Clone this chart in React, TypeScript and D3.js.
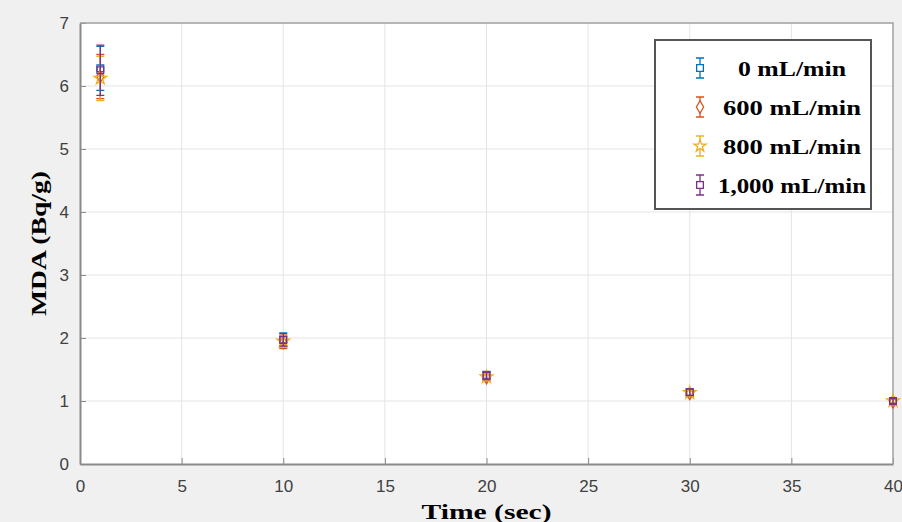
import React, { useRef, useEffect } from "react";
import * as d3 from "d3";

// Data
const times = [1, 10, 20, 30, 40];
const flowLabels = ["0 mL/min", "600 mL/min", "800 mL/min", "1,000 mL/min"];
const mda0 = [6.28, 1.98, 1.41, 1.14, 1.0];
const mda600 = [6.15, 1.93, 1.37, 1.12, 0.99];
const mda800 = [6.12, 1.95, 1.38, 1.13, 1.0];
const mda1000 = [6.25, 1.97, 1.4, 1.14, 1.0];
const err0 = [0.35, 0.1, 0.06, 0.05, 0.04];
const err600 = [0.35, 0.1, 0.06, 0.05, 0.04];
const err800 = [0.35, 0.1, 0.06, 0.05, 0.04];
const err1000 = [0.4, 0.1, 0.06, 0.05, 0.04];
const xTicks = [0, 5, 10, 15, 20, 25, 30, 35, 40];
const yTicks = [0, 1, 2, 3, 4, 5, 6, 7];

const seriesColors = ["#0072BD", "#D95319", "#EDB120", "#7E2F8E"];
const seriesSymbols = [d3.symbolSquare, d3.symbolDiamond, d3.symbolStar, d3.symbolSquare];
// approximate rendered widths of the stretched legend text
const legendTextWidths = [108, 138, 138, 148];

const App = () => {
  const svgRef = useRef<SVGSVGElement>(null);

  useEffect(() => {
    const width = 902;
    const height = 522;
    const margin = { top: 23, right: 9, bottom: 58, left: 80 };
    const svg = d3.select(svgRef.current).attr("width", width).attr("height", height);
    svg.selectAll("*").remove();

    // figure background
    svg.append("rect").attr("width", width).attr("height", height).attr("fill", "#f0f0f0");

    const x = d3.scaleLinear().domain([0, 40]).range([margin.left, width - margin.right]);
    const y = d3.scaleLinear().domain([0, 7]).range([height - margin.bottom, margin.top]);

    // plot area
    svg
      .append("rect")
      .attr("x", x(0))
      .attr("y", y(7))
      .attr("width", x(40) - x(0))
      .attr("height", y(0) - y(7))
      .attr("fill", "#ffffff");

    // grid
    const grid = svg.append("g").attr("stroke", "#e4e4e4").attr("stroke-width", 1);
    grid
      .selectAll()
      .data(xTicks.slice(1, -1))
      .join("line")
      .attr("x1", (d) => x(d))
      .attr("x2", (d) => x(d))
      .attr("y1", y(0))
      .attr("y2", y(7));
    grid
      .selectAll()
      .data(yTicks.slice(1, -1))
      .join("line")
      .attr("x1", x(0))
      .attr("x2", x(40))
      .attr("y1", (d) => y(d))
      .attr("y2", (d) => y(d));

    // axes (MATLAB style, ticks inside)
    const xAxis = svg
      .append("g")
      .attr("transform", `translate(0, ${y(0)})`)
      .call(
        d3.axisBottom(x).tickValues(xTicks).tickFormat(d3.format("d")).tickSizeInner(-6).tickSizeOuter(0).tickPadding(16)
      );
    const yAxis = svg
      .append("g")
      .attr("transform", `translate(${x(0)}, 0)`)
      .call(
        d3.axisLeft(y).tickValues(yTicks).tickFormat(d3.format("d")).tickSizeInner(-6).tickSizeOuter(0).tickPadding(11)
      );
    [xAxis, yAxis].forEach((ax) => {
      ax.select(".domain").attr("stroke", "#8a8a8a").attr("stroke-width", 2);
      ax.selectAll(".tick line").attr("stroke", "#8a8a8a");
      ax.selectAll(".tick text")
        .attr("fill", "#404040")
        .attr("font-family", "Liberation Sans, Arial, sans-serif")
        .attr("font-size", "17px");
    });

    // top and right box edges
    svg
      .append("path")
      .attr("d", `M${x(0)},${y(7)}H${x(40)}V${y(0)}`)
      .attr("fill", "none")
      .attr("stroke", "#a0a0a0")
      .attr("stroke-width", 1.5);

    // axis labels
    svg
      .append("text")
      .attr("x", (x(0) + x(40)) / 2)
      .attr("y", 519)
      .attr("text-anchor", "middle")
      .attr("font-family", "Liberation Serif, Times New Roman, serif")
      .attr("font-weight", "bold")
      .attr("font-size", "20px")
      .attr("textLength", 130)
      .attr("lengthAdjust", "spacingAndGlyphs")
      .text("Time (sec)");
    svg
      .append("text")
      .attr("transform", `translate(46, ${(y(0) + y(7)) / 2}) rotate(-90)`)
      .attr("text-anchor", "middle")
      .attr("font-family", "Liberation Serif, Times New Roman, serif")
      .attr("font-weight", "bold")
      .attr("font-size", "20px")
      .attr("textLength", 145)
      .attr("lengthAdjust", "spacingAndGlyphs")
      .text("MDA (Bq/g)");

    // series with error bars
    const values = [mda0, mda600, mda800, mda1000];
    const errors = [err0, err600, err800, err1000];
    const capW = 4;
    values.forEach((vals, s) => {
      const g = svg.append("g").attr("stroke", seriesColors[s]).attr("fill", "none").attr("stroke-width", 1.3);
      const pts = times.map((t, i) => ({ t, v: vals[i], e: errors[s][i] }));
      g.selectAll()
        .data(pts)
        .join("path")
        .attr(
          "d",
          (d) =>
            `M${x(d.t)},${y(d.v - d.e)}V${y(d.v + d.e)}` +
            `M${x(d.t) - capW},${y(d.v - d.e)}H${x(d.t) + capW}` +
            `M${x(d.t) - capW},${y(d.v + d.e)}H${x(d.t) + capW}`
        );
      g.selectAll()
        .data(pts)
        .join("path")
        .attr("transform", (d) => `translate(${x(d.t)}, ${y(d.v)})`)
        .attr("d", d3.symbol().type(seriesSymbols[s]).size(s === 2 ? 50 : 45));
    });

    // legend
    const legend = svg.append("g").attr("transform", "translate(655, 40)");
    legend
      .append("rect")
      .attr("width", 216)
      .attr("height", 169)
      .attr("fill", "#ffffff")
      .attr("stroke", "#555555")
      .attr("stroke-width", 2);
    flowLabels.forEach((label, i) => {
      const cy = 28 + i * 39;
      const item = legend.append("g").attr("transform", `translate(45, ${cy})`);
      item
        .append("path")
        .attr("d", `M0,-10V10M-4,-10H4M-4,10H4`)
        .attr("stroke", seriesColors[i])
        .attr("stroke-width", 1.3)
        .attr("fill", "none");
      item
        .append("path")
        .attr("d", d3.symbol().type(seriesSymbols[i]).size(45))
        .attr("stroke", seriesColors[i])
        .attr("stroke-width", 1.3)
        .attr("fill", "#ffffff");
      legend
        .append("text")
        .attr("x", 137)
        .attr("y", cy + 8)
        .attr("text-anchor", "middle")
        .attr("font-family", "Liberation Serif, Times New Roman, serif")
        .attr("font-weight", "bold")
        .attr("font-size", "21px")
        .attr("textLength", legendTextWidths[i])
        .attr("lengthAdjust", "spacingAndGlyphs")
        .text(label);
    });
  }, []);

  return (
    <div>
      <svg ref={svgRef} style={{ position: "absolute", left: 0, top: 0 }}></svg>
    </div>
  );
};

export default App;
